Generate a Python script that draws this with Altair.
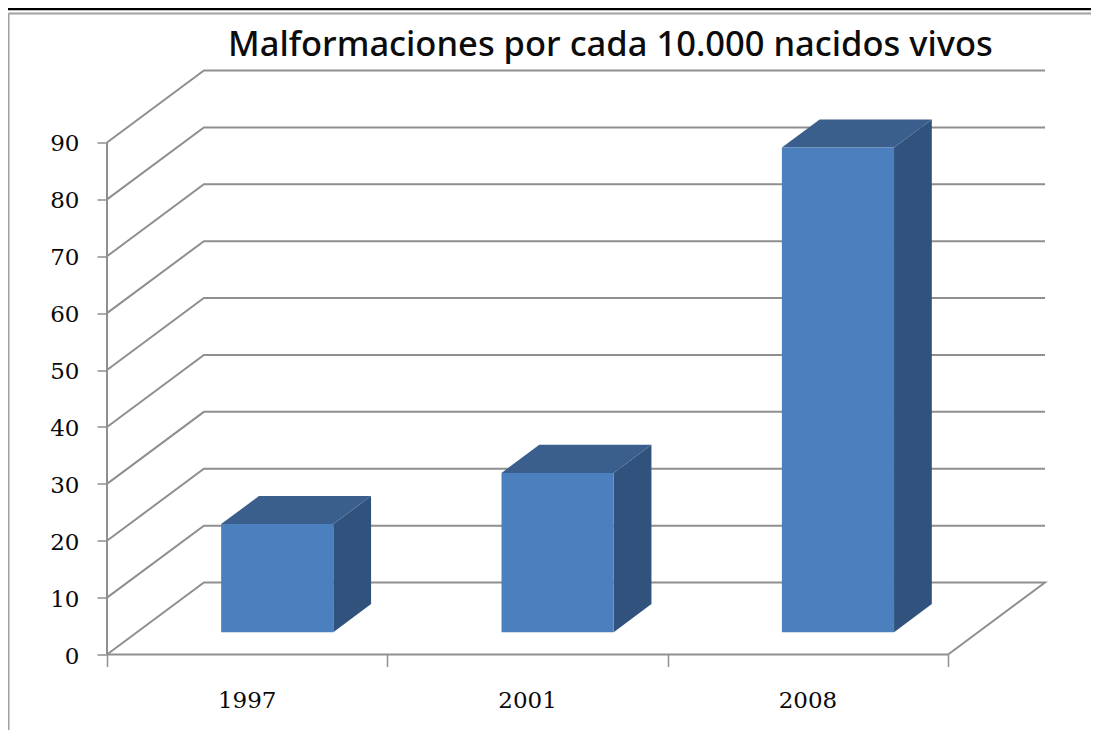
import altair as alt
import pandas as pd

categories = ["1997", "2001", "2008"]
values = [19, 28, 85.2]
ticks = [0, 10, 20, 30, 40, 50, 60, 70, 80, 90]
title_text = "Malformaciones por cada 10.000 nacidos vivos"

# oblique depth, in data units of each axis
DX, DY = 0.3456, 12.65
D_FRONT, D_BACK = 0.31, 0.70
GAP, BAR = 0.3, 0.4
N = len(categories)

# walls and floor
lines = []
for v in ticks:
    pts = [(0, v), (DX, v + DY), (N + DX, v + DY)]
    if v == 0:
        pts.append((N, 0))
    for s, (x, y) in enumerate(pts):
        lines.append({"path": f"g{v}", "step": s, "x": x, "y": y})
lines += [{"path": "ya", "step": 0, "x": 0, "y": 0}, {"path": "ya", "step": 1, "x": 0, "y": ticks[-1]}]
lines += [{"path": "xa", "step": 0, "x": 0, "y": 0}, {"path": "xa", "step": 1, "x": N, "y": 0}]
lines_df = pd.DataFrame(lines)

front, side, top = [], [], []
for i, (c, v) in enumerate(zip(categories, values)):
    x0 = i + GAP + DX * D_FRONT
    x1 = x0 + BAR
    base = DY * D_FRONT
    dx = DX * (D_BACK - D_FRONT)
    dy = DY * (D_BACK - D_FRONT)
    front.append({"c": c, "x": x0, "x2": x1, "y": base, "y2": base + v})
    side.append({"c": c, "x": x1, "y": base, "y2": base + v})
    side.append({"c": c, "x": x1 + dx, "y": base + dy, "y2": base + v + dy})
    top.append({"c": c, "y": base + v, "x": x0, "x2": x1})
    top.append({"c": c, "y": base + v + dy, "x": x0 + dx, "x2": x1 + dx})

labels_df = pd.DataFrame({"c": categories, "x": [i + 0.5 for i in range(N)], "y": [0] * N})

x_scale = alt.Scale(domain=[0, N + DX], nice=False, zero=False)
y_scale = alt.Scale(domain=[0, ticks[-1] + DY], nice=False, zero=False)
GRAY = "#8f8f8f"
TEXT = "#0a0a0a"
NUM_FONT = "DejaVu Serif"

x_axis = alt.Axis(values=list(range(N + 1)), labels=False, domain=False, grid=False, title=None,
                  tickSize=12, tickColor=GRAY, tickWidth=1.5)
y_axis = alt.Axis(values=ticks, domain=False, grid=False, title=None, tickSize=10, tickColor=GRAY,
                  tickWidth=1.5, labelPadding=18, labelFont=NUM_FONT, labelFontSize=23,
                  labelColor=TEXT, labelFontWeight="normal", labelOffset=1.5)

grid = alt.Chart(lines_df).mark_line(color=GRAY, strokeWidth=2).encode(
    x=alt.X("x:Q", scale=x_scale, axis=x_axis),
    y=alt.Y("y:Q", scale=y_scale, axis=y_axis),
    detail="path:N",
    order="step:Q",
)

side_l = alt.Chart(pd.DataFrame(side)).mark_area(color="#30527C", opacity=1).encode(
    x=alt.X("x:Q", scale=x_scale), y=alt.Y("y:Q", scale=y_scale), y2="y2:Q", detail="c:N")
top_l = alt.Chart(pd.DataFrame(top)).mark_area(color="#3B5F8C", opacity=1, orient="horizontal").encode(
    y=alt.Y("y:Q", scale=y_scale), x=alt.X("x:Q", scale=x_scale), x2="x2:Q", detail="c:N")
front_l = alt.Chart(pd.DataFrame(front)).mark_rect(color="#4C7FBE").encode(
    x=alt.X("x:Q", scale=x_scale), x2="x2:Q", y=alt.Y("y:Q", scale=y_scale), y2="y2:Q")

x_labels = alt.Chart(labels_df).mark_text(font=NUM_FONT, fontSize=23, color=TEXT, dy=46).encode(
    x=alt.X("x:Q", scale=x_scale), y=alt.Y("y:Q", scale=y_scale), text="c:N")

# frame of the picture
frame_top = alt.Chart(pd.DataFrame({"a": [0]})).mark_rule(color="#000000", strokeWidth=2.5).encode(
    x=alt.value(-99), x2=alt.value(984), y=alt.value(-61.5))
frame_grey_h = alt.Chart(pd.DataFrame({"a": [0]})).mark_rule(color="#a0a0a0", strokeWidth=2).encode(
    x=alt.value(-98.5), x2=alt.value(984), y=alt.value(-57))
frame_grey_v = alt.Chart(pd.DataFrame({"a": [0]})).mark_rule(color="#a0a0a0", strokeWidth=2).encode(
    x=alt.value(-98.5), y=alt.value(-57), y2=alt.value(659.5))

chart = alt.layer(frame_top, frame_grey_h, frame_grey_v, grid, side_l, top_l, front_l, x_labels).properties(
    width=938,
    height=584,
    padding={"left": 99, "top": 62.5, "right": 46, "bottom": 75.5},
    autosize=alt.AutoSizeParams(type="none"),
    background="#ffffff",
    title=alt.TitleParams(
        title_text, anchor="start", frame="group", dx=121, dy=83, offset=0, font="Noto Sans", fontSize=34.5,
        fontWeight=500, color="#0c0c0c", baseline="alphabetic",
    ),
).configure_view(stroke=None)

chart.save("out.html", embed_options={"renderer": "svg", "actions": False})
